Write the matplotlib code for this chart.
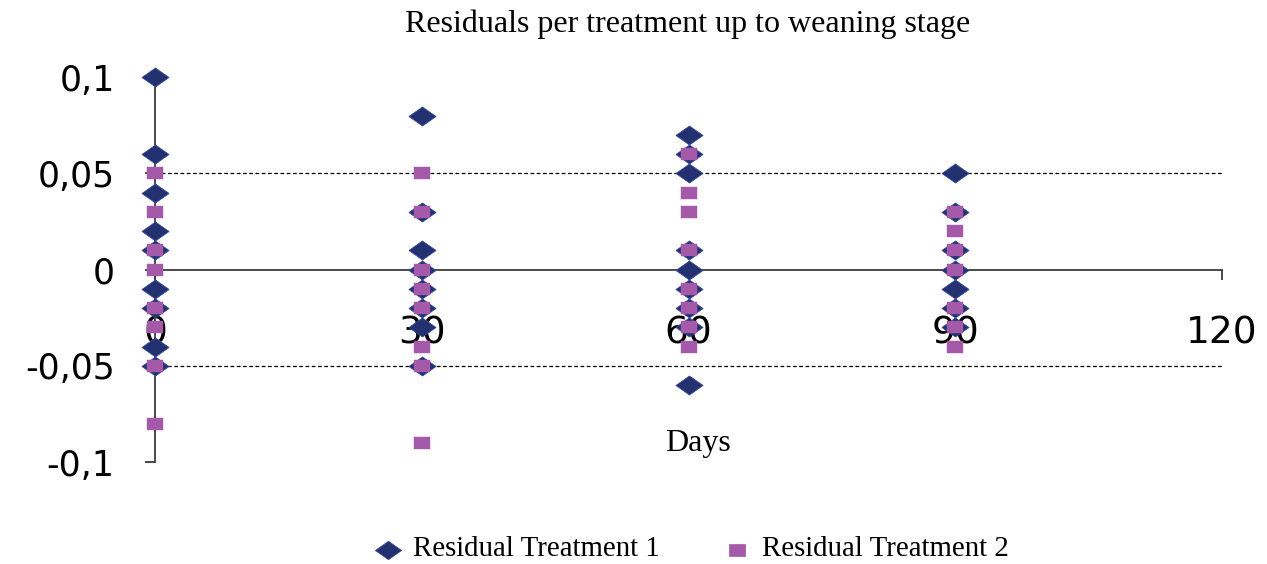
import matplotlib
matplotlib.use("Agg")
import matplotlib.pyplot as plt
from matplotlib.ticker import FuncFormatter
from matplotlib.lines import Line2D

# Data (days, residuals)
t1_days = [0]*9 + [30]*8 + [60]*9 + [90]*7
t1_res = [0.10, 0.06, 0.04, 0.02, 0.01, -0.01, -0.02, -0.04, -0.05,
          0.08, 0.03, 0.01, 0.00, -0.01, -0.02, -0.03, -0.05,
          0.07, 0.06, 0.05, 0.01, 0.00, -0.01, -0.02, -0.03, -0.06,
          0.05, 0.03, 0.01, 0.00, -0.01, -0.02, -0.03]
t2_days = [0]*8 + [30]*8 + [60]*8 + [90]*7
t2_res = [0.05, 0.03, 0.01, 0.00, -0.02, -0.03, -0.05, -0.08,
          0.05, 0.03, 0.00, -0.01, -0.02, -0.04, -0.05, -0.09,
          0.06, 0.04, 0.03, 0.01, -0.01, -0.02, -0.03, -0.04,
          0.03, 0.02, 0.01, 0.00, -0.02, -0.03, -0.04]
x_ticks = [0, 30, 60, 90, 120]
y_ticks = [-0.1, -0.05, 0, 0.05, 0.1]
labels = ["Residual Treatment 1", "Residual Treatment 2"]
title = "Residuals per treatment up to weaning stage"
xlabel = "Days"

diamond = [(-1, 0), (0, 0.7), (1, 0), (0, -0.7), (-1, 0)]
square = [(-1, -0.72), (1, -0.72), (1, 0.72), (-1, 0.72), (-1, -0.72)]
c1 = "#233170"
c1e = "#3a4a96"
c2 = "#a45aa9"
axc = "#3c3c3c"

W, H = 1267, 564
fig = plt.figure(figsize=(W/100, H/100), dpi=100)
ax = fig.add_axes([155/W, 1-462/H, (1222-155)/W, (462-77)/H])
ax.set_xlim(0, 120)
ax.set_ylim(-0.1, 0.1)

for yv in [0.05, -0.05]:
    ax.axhline(yv, color="black", lw=0.9, ls=(0, (3, 2)), zorder=1)

ax.plot(t1_days, t1_res, ls="none", marker=diamond, ms=19.5, mfc=c1, mec=c1e,
        mew=0.6, zorder=3, clip_on=False, label=labels[0])
ax.plot(t2_days, t2_res, ls="none", marker=square, ms=12.2, mfc=c2, mec=c2,
        mew=0.3, zorder=4, clip_on=False, label=labels[1])

for s in ["top", "right"]:
    ax.spines[s].set_visible(False)
ax.spines["bottom"].set_position(("data", 0))
ax.spines["left"].set_position(("data", 0))
for s in ["bottom", "left"]:
    ax.spines[s].set_color(axc)
    ax.spines[s].set_linewidth(1.3)
    ax.spines[s].set_zorder(2)

ax.set_xticks(x_ticks)
ax.set_yticks(y_ticks)
ax.yaxis.set_major_formatter(FuncFormatter(lambda v, p: ("%g" % v).replace(".", ",")))
ax.tick_params(axis="both", direction="out", length=7, width=1.3, color=axc,
               labelcolor="black")
ax.tick_params(axis="x", pad=26, labelsize=27)
ax.tick_params(axis="y", pad=22, labelsize=25)
for lab in ax.get_xticklabels() + ax.get_yticklabels():
    lab.set_family("DejaVu Sans")
    lab.set_zorder(5)

fig.text(688/W, 1-24/H, title, ha="center", va="center",
         family="Liberation Serif", fontsize=23)
fig.text(698/W, 1-443/H, xlabel, ha="center", va="center",
         family="Liberation Serif", fontsize=23)

# legend (manual placement)
leg_items = [(388, labels[0], diamond, 19, c1, c1e), (737, labels[1], square, 12, c2, c2)]
for xpx, lab, mk, ms, fc, ec in leg_items:
    fig.add_artist(Line2D([xpx/W], [1-550/H], transform=fig.transFigure, ls="none",
                          marker=mk, ms=ms, mfc=fc, mec=ec, mew=0.5))
    fig.text((xpx+25)/W, 1-549/H, lab, ha="left", va="center",
             family="Liberation Serif", fontsize=20.8)

fig.savefig("out.png", dpi=100)
